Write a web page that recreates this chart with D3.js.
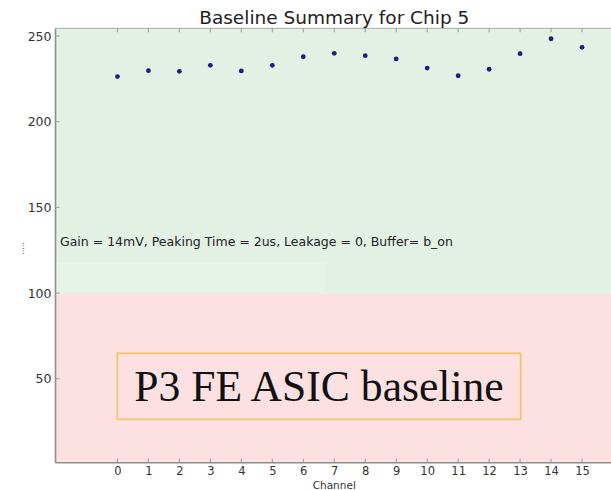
<!DOCTYPE html>
<html>
<head>
<meta charset="utf-8">
<script src="https://cdn.jsdelivr.net/npm/d3@7"></script>
<style>
  html, body { margin: 0; padding: 0; background: #fff; }
  svg { display: block; }
</style>
</head>
<body>
<svg id="chart" width="611" height="490"></svg>
<script>
// ---- data ----
const channels = [0,1,2,3,4,5,6,7,8,9,10,11,12,13,14,15];
const baselines = [226.3,229.8,229.4,232.9,229.6,232.9,237.9,239.9,238.5,236.6,231.3,226.8,230.6,239.7,248.4,243.4];
const yTicks = [50,100,150,200,250];
const xTicks = channels;
const threshold = 100;
const titleText = "Baseline Summary for Chip 5";
const xLabel = "Channel";
const yLabel = ".....";
const noteText = "Gain = 14mV, Peaking Time = 2us, Leakage = 0, Buffer= b_on";
const boxText = "P3 FE ASIC baseline";

// ---- layout ----
const svg = d3.select("#chart");
const L = 55.5, R = 613, T = 28.3, B = 462.7;
const x = d3.scaleLinear().domain([-2, 16]).range([L, R]);
const y = d3.scaleLinear().domain([1, 254.5]).range([B, T]);

// background bands
svg.append("rect").attr("x", L).attr("y", T)
  .attr("width", R - L).attr("height", y(threshold) + 1 - T)
  .attr("fill", "#e3f0e4");
svg.append("rect").attr("x", L).attr("y", y(threshold) + 1)
  .attr("width", R - L).attr("height", B - y(threshold) - 1)
  .attr("fill", "#fde1e2");
// faint lighter patch under note
svg.append("rect").attr("x", L).attr("y", y(threshold) - 31)
  .attr("width", x(6.7) - L).attr("height", 32)
  .attr("fill", "#e8f3e8").attr("opacity", 0.7);

// spines
const spine = "#8e8e8e";
svg.append("line").attr("x1", L).attr("x2", L).attr("y1", T).attr("y2", B)
  .attr("stroke", spine).attr("stroke-width", 1.6);
svg.append("line").attr("x1", L).attr("x2", R).attr("y1", B).attr("y2", B)
  .attr("stroke", spine).attr("stroke-width", 1.6);
svg.append("line").attr("x1", L).attr("x2", R).attr("y1", T).attr("y2", T)
  .attr("stroke", "#b8b8b8").attr("stroke-width", 1.2);

// x axis (bottom), ticks inside
const xAxis = d3.axisBottom(x).tickValues(xTicks).tickSize(0).tickPadding(4)
  .tickFormat(d3.format("d"));
const gx = svg.append("g").attr("transform", `translate(0,${B})`).call(xAxis);
gx.select(".domain").remove();
gx.selectAll("text").attr("font-family", "DejaVu Sans").attr("font-size", 11.5).attr("fill", "#333");
// inner tick marks bottom + top
svg.append("g").selectAll("line.bt").data(xTicks).join("line")
  .attr("x1", d => x(d)).attr("x2", d => x(d)).attr("y1", B).attr("y2", B - 4)
  .attr("stroke", "#999").attr("stroke-width", 1);
svg.append("g").selectAll("line.tt").data(xTicks).join("line")
  .attr("x1", d => x(d)).attr("x2", d => x(d)).attr("y1", T).attr("y2", T + 4)
  .attr("stroke", "#999").attr("stroke-width", 1);

// y axis
const yAxis = d3.axisLeft(y).tickValues(yTicks).tickSize(0).tickPadding(4)
  .tickFormat(d3.format("d"));
const gy = svg.append("g").attr("transform", `translate(${L},0)`).call(yAxis);
gy.select(".domain").remove();
gy.selectAll("text").attr("font-family", "DejaVu Sans").attr("font-size", 12.5).attr("fill", "#333");
svg.append("g").selectAll("line").data(yTicks).join("line")
  .attr("x1", L).attr("x2", L + 4).attr("y1", d => y(d)).attr("y2", d => y(d))
  .attr("stroke", "#999").attr("stroke-width", 1);

// points
svg.append("g").selectAll("circle").data(channels).join("circle")
  .attr("cx", (d, i) => x(d)).attr("cy", (d, i) => y(baselines[i]))
  .attr("r", 2.4).attr("fill", "#1d1d82");

// title
svg.append("text").attr("x", (L + R) / 2).attr("y", 24)
  .attr("text-anchor", "middle").attr("font-family", "DejaVu Sans")
  .attr("font-size", 18.5).attr("fill", "#222").text(titleText);

// x label
svg.append("text").attr("x", (L + R) / 2).attr("y", 488.5)
  .attr("text-anchor", "middle").attr("font-family", "DejaVu Sans")
  .attr("font-size", 10.5).attr("fill", "#333").text(xLabel);

// y label (tiny)
svg.append("text").attr("transform", `translate(24,${(T + B) / 2 + 3}) rotate(-90)`)
  .attr("text-anchor", "middle").attr("font-family", "DejaVu Sans")
  .attr("font-size", 8).attr("fill", "#444").text(yLabel);

// note text
svg.append("text").attr("x", 60).attr("y", 245.5)
  .attr("font-family", "DejaVu Sans").attr("font-size", 12.5).attr("fill", "#222")
  .text(noteText);

// annotation box
svg.append("rect").attr("x", 117.3).attr("y", 353.3)
  .attr("width", 520.7 - 117.3).attr("height", 419.3 - 353.3)
  .attr("fill", "none").attr("stroke", "#f0c66a").attr("stroke-width", 1.8);
svg.append("text").attr("x", 319).attr("y", 401)
  .attr("text-anchor", "middle").attr("font-family", "Liberation Serif")
  .attr("font-size", 43.6).attr("fill", "#111").text(boxText);
</script>
</body>
</html>
